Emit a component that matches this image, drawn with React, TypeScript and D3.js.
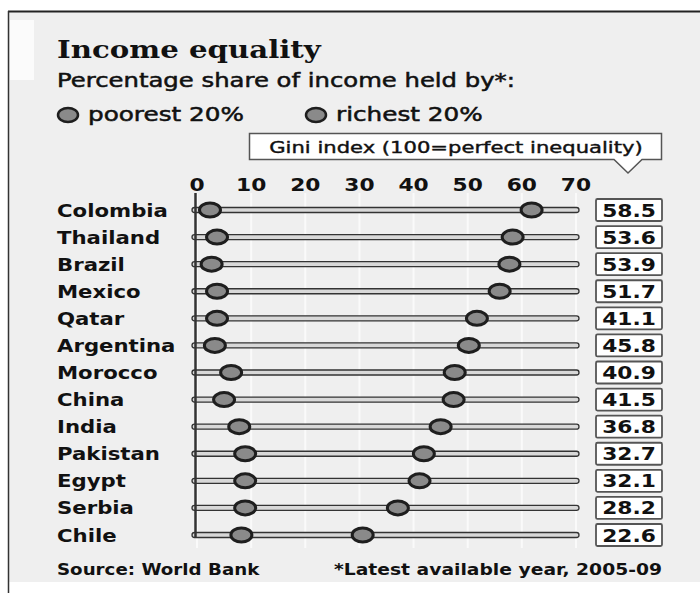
import React from "react";
import * as d3 from "d3";

const countries = ["Colombia","Thailand","Brazil","Mexico","Qatar","Argentina","Morocco","China","India","Pakistan","Egypt","Serbia","Chile"];
const poorest = [2.4, 3.7, 2.7, 3.7, 3.7, 3.3, 6.3, 5.0, 7.8, 8.9, 8.9, 8.9, 8.2];
const richest = [61.8, 58.3, 57.7, 55.9, 51.7, 50.2, 47.6, 47.4, 45.0, 41.9, 41.1, 37.1, 30.6];
const gini = ["58.5","53.6","53.9","51.7","41.1","45.8","40.9","41.5","36.8","32.7","32.1","28.2","22.6"];
const ticks = [0, 10, 20, 30, 40, 50, 60, 70];

const W = 700, H = 593;
const SANS = "'DejaVu Sans', Verdana, sans-serif";
const SERIF = "'DejaVu Serif', serif";

type TP = { x: number; y: number; size: number; sx: number; anchor?: string; bold?: boolean; family?: string; thick?: number; children: React.ReactNode };
function T({ x, y, size, sx, anchor = "start", bold = false, family = SANS, thick = 0, children }: TP) {
  return (
    <text
      transform={`translate(${x},${y}) scale(${sx},1)`}
      textAnchor={anchor}
      fontFamily={family}
      fontWeight={bold ? "bold" : "normal"}
      fontSize={size}
      fill="#111"
      stroke={thick ? "#111" : "none"}
      strokeWidth={thick}
    >
      {children}
    </text>
  );
}

export default function App() {
  const x = d3.scaleLinear().domain([0, 70]).range([197, 576]);
  const y = d3.scalePoint<string>().domain(countries).range([210, 535]);
  const dotFill = "#8a8a8a";
  const dotStroke = "#1e1e1e";
  return (
    <svg width={W} height={H} style={{ position: "absolute", left: 0, top: 0 }}>
      <rect x={0} y={0} width={W} height={H} fill="#ffffff" />
      <rect x={8} y={12} width={W - 8} height={570} fill="#efefef" />
      <rect x={10} y={20} width={24} height={60} fill="#fbfbfb" />
      <line x1={8} x2={W} y1={11.5} y2={11.5} stroke="#222" strokeWidth={2} />
      <line x1={8.5} x2={8.5} y1={11} y2={H} stroke="#333" strokeWidth={1.5} />

      <T x={57} y={58} size={25} sx={1.17} bold family={SERIF}>Income equality</T>
      <T x={57} y={87} size={19} sx={1.28} thick={0.5}>Percentage share of income held by*:</T>

      <ellipse cx={68} cy={115} rx={10} ry={7} fill={dotFill} stroke={dotStroke} strokeWidth={2.5} />
      <T x={88} y={121} size={19} sx={1.3} thick={0.5}>poorest 20%</T>
      <ellipse cx={316} cy={115} rx={10} ry={7} fill={dotFill} stroke={dotStroke} strokeWidth={2.5} />
      <T x={336} y={121} size={19} sx={1.3} thick={0.5}>richest 20%</T>

      <path d="M249.5,133.5 H661.5 V159.5 H642 L628,173 L614,159.5 H249.5 Z" fill="#fff" stroke="#555" strokeWidth={1.5} />
      <T x={456} y={153} size={16} sx={1.32} anchor="middle" thick={0.4}>Gini index (100=perfect inequality)</T>

      {ticks.map(t => (
        <g key={t}>
          <line x1={x(t)} x2={x(t)} y1={193} y2={548} stroke="#fafafa" strokeWidth={2} />
          <T x={x(t)} y={191} size={17} sx={1.28} anchor="middle" bold>{t}</T>
        </g>
      ))}

      {countries.map((c, i) => {
        const cy = y(c)!;
        return (
          <g key={c}>
            <T x={57} y={cy + 6.5} size={18} sx={1.18} bold>{c}</T>
            <rect x={192} y={cy - 2.5} width={x(70) + 3 - 192} height={5} rx={2.5} fill="#d8d8d8" stroke="#333" strokeWidth={1.3} />
            <ellipse cx={x(poorest[i])} cy={cy} rx={10.5} ry={7} fill={dotFill} stroke={dotStroke} strokeWidth={3} />
            <ellipse cx={x(richest[i])} cy={cy} rx={10.5} ry={7} fill={dotFill} stroke={dotStroke} strokeWidth={3} />
            <rect x={596} y={cy - 11} width={66} height={22} fill="#fff" stroke="#555" strokeWidth={1.8} rx={1.5} />
            <T x={629} y={cy + 6.5} size={17} sx={1.28} anchor="middle" bold>{gini[i]}</T>
          </g>
        );
      })}
      <line x1={195.5} x2={195.5} y1={193} y2={537} stroke="#333" strokeWidth={2.5} />

      <T x={57} y={575} size={16} sx={1.14} bold>Source: World Bank</T>
      <T x={662} y={575} size={16} sx={1.17} anchor="end" bold>*Latest available year, 2005-09</T>
    </svg>
  );
}
